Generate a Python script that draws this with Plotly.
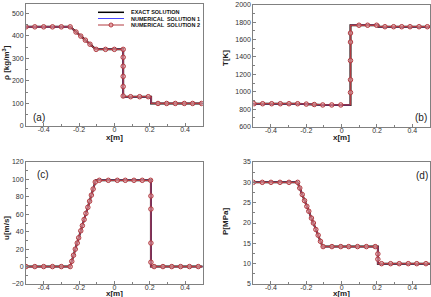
import plotly.graph_objects as go

W, H = 431, 297

# ---------------- data ----------------
# (a) density
rho_exact_x = [-0.5, -0.25, -0.105, 0.05, 0.05, 0.208, 0.208, 0.5]
rho_exact_y = [440, 440, 340, 340, 130, 130, 100, 100]
rho_sym_x = [-0.5, -0.45, -0.4, -0.35, -0.3, -0.25, -0.217, -0.19, -0.164, -0.138, -0.103,
             -0.05, 0.0, 0.05, 0.05, 0.05, 0.05, 0.05, 0.05, 0.092, 0.143, 0.192,
             0.247, 0.296, 0.345, 0.396, 0.443, 0.494]
rho_sym_y = [440, 440, 440, 440, 440, 440, 417, 399, 381, 363, 340,
             340, 340, 340, 305, 265, 220, 175, 133, 130, 130, 130,
             100, 100, 100, 100, 100, 100]

# (b) temperature
T_exact_x = [-0.5, -0.25, -0.105, 0.05, 0.05, 0.208, 0.208, 0.5]
T_exact_y = [862, 862, 848, 848, 1765, 1765, 1748, 1748]
T_sym_x = [-0.496, -0.447, -0.396, -0.347, -0.298, -0.249, -0.2, -0.155, -0.107, -0.056, -0.005,
           0.05, 0.05, 0.05, 0.05, 0.05, 0.098, 0.147, 0.198,
           0.245, 0.294, 0.34, 0.387, 0.438, 0.485]
T_sym_y = [862, 862, 862, 862, 862, 862, 858, 853, 848, 848, 848,
           991, 1137, 1359, 1571, 1675, 1765, 1765, 1765,
           1748, 1748, 1748, 1748, 1748, 1748]

# (c) velocity
u_exact_x = [-0.5, -0.25, -0.105, 0.207, 0.207, 0.5]
u_exact_y = [0, 0, 99, 99, 0, 0]
u_sym_x = [-0.5, -0.45, -0.4, -0.35, -0.3, -0.25,
           -0.241, -0.231, -0.221, -0.21, -0.202, -0.19, -0.181, -0.171, -0.161, -0.15, -0.14, -0.13, -0.12, -0.108,
           -0.085, -0.034, 0.017, 0.062, 0.111, 0.158, 0.205,
           0.207, 0.207, 0.207, 0.207,
           0.225, 0.275, 0.325, 0.375, 0.425, 0.475]
u_sym_y = [0, 0, 0, 0, 0, 0,
           6, 13, 20, 27, 33, 41, 47, 54, 61, 68, 75, 82, 89, 97,
           99, 99, 99, 99, 99, 99, 99,
           81, 66, 27, 5,
           0, 0, 0, 0, 0, 0]

# (d) pressure
P_exact_x = [-0.5, -0.25, -0.108, 0.205, 0.205, 0.5]
P_exact_y = [30, 30, 14.2, 14.2, 10, 10]
P_sym_x = [-0.5, -0.449, -0.4, -0.349, -0.298, -0.249,
           -0.237, -0.223, -0.21, -0.197, -0.186, -0.171, -0.16, -0.146, -0.133, -0.12,
           -0.105, -0.055, -0.005, 0.04, 0.09, 0.14, 0.19,
           0.205, 0.205,
           0.226, 0.277, 0.326, 0.377, 0.425, 0.477]
P_sym_y = [30, 30, 30, 30, 30, 30,
           28.6, 27, 25.5, 24.1, 22.9, 21.2, 20, 18.4, 17, 15.5,
           14.2, 14.2, 14.2, 14.2, 14.2, 14.2, 14.2,
           12.4, 11.1,
           10, 10, 10, 10, 10, 10]

x_ticks = [-0.4, -0.2, 0, 0.2, 0.4]
x_ticktext = ["-0.4", "-0.2", "0", "0.2", "0.4"]

legend_names = ["EXACT SOLUTION", "NUMERICAL  SOLUTION 1", "NUMERICAL  SOLUTION 2"]

# ---------------- styling ----------------
C_EXACT = "#000000"
C_NUM1 = "#4646ff"
C_NUM2 = "#b23a40"
FONT = "Liberation Sans, Arial, sans-serif"
AX_COL = "#808080"


def px(x):
    return x / W


def py(y):
    return 1 - y / H


panels = [
    dict(xa="x", ya="y", xd=(26, 202.7), yd=(4.3, 126), yr=[0, 540], dt=100,
         ex=(rho_exact_x, rho_exact_y), sy=(rho_sym_x, rho_sym_y)),
    dict(xa="x2", ya="y2", xd=(253.3, 430), yd=(4.8, 126.5), yr=[600, 2000], dt=200,
         ex=(T_exact_x, T_exact_y), sy=(T_sym_x, T_sym_y)),
    dict(xa="x3", ya="y3", xd=(26, 202.7), yd=(162, 284), yr=[-20, 120], dt=20,
         ex=(u_exact_x, u_exact_y), sy=(u_sym_x, u_sym_y)),
    dict(xa="x4", ya="y4", xd=(253.3, 430), yd=(162, 284), yr=[5, 35], dt=5,
         ex=(P_exact_x, P_exact_y), sy=(P_sym_x, P_sym_y)),
]

fig = go.Figure()
layout = dict(
    width=W, height=H, margin=dict(l=0, r=0, t=0, b=0),
    paper_bgcolor="white", plot_bgcolor="white", showlegend=False,
    font=dict(family=FONT, size=7, color="#333333"),
)

for i, p in enumerate(panels):
    ex_x, ex_y = p["ex"]
    sx, sy = p["sy"]
    fig.add_trace(go.Scatter(x=ex_x, y=ex_y, mode="lines", name=legend_names[0],
                             line=dict(color=C_EXACT, width=2), xaxis=p["xa"], yaxis=p["ya"]))
    fig.add_trace(go.Scatter(x=ex_x, y=ex_y, mode="lines", name=legend_names[1],
                             line=dict(color=C_NUM1, width=1), xaxis=p["xa"], yaxis=p["ya"]))
    fig.add_trace(go.Scatter(x=ex_x, y=ex_y, mode="lines", name=legend_names[2],
                             line=dict(color=C_NUM2, width=1.3), xaxis=p["xa"], yaxis=p["ya"]))
    fig.add_trace(go.Scatter(x=sx, y=sy, mode="markers", name=legend_names[2],
                             marker=dict(symbol="circle", size=4.5, color="rgba(235,160,165,0.55)",
                                         line=dict(color=C_NUM2, width=1)),
                             xaxis=p["xa"], yaxis=p["ya"]))
    n = "" if i == 0 else str(i + 1)
    common = dict(showline=True, linecolor=AX_COL, linewidth=1, mirror=True,
                  ticks="inside", ticklen=3, tickcolor=AX_COL, tickwidth=1,
                  showgrid=False, zeroline=False, automargin=False,
                  tickfont=dict(family=FONT, size=7, color="#333333"))
    layout["xaxis" + n] = dict(common, domain=[px(p["xd"][0]), px(p["xd"][1])],
                               range=[-0.5, 0.5], tickvals=x_ticks, ticktext=x_ticktext,
                               anchor="y" + n, ticklabelstandoff=-3,
                               minor=dict(ticks="inside", ticklen=2, tickcolor=AX_COL, dtick=0.1))
    layout["yaxis" + n] = dict(common, domain=[py(p["yd"][1]), py(p["yd"][0])],
                               range=p["yr"], dtick=p["dt"], tick0=0, anchor="x" + n,
                               minor=dict(ticks="inside", ticklen=2, tickcolor=AX_COL,
                                          dtick=p["dt"] / 2))

annotations = []
shapes = []


def ann(text, x, y, size=8, bold=True, angle=0, xanchor="center", color="#222222"):
    annotations.append(dict(
        text=text, x=px(x), y=py(y), xref="paper", yref="paper", showarrow=False,
        xanchor=xanchor, yanchor="middle", textangle=angle,
        font=dict(family=FONT, size=size, color=color, weight=700 if bold else 400)))


# axis titles
ann("x[m]", 114.3, 137.5)
ann("x[m]", 341.7, 137.5)
ann("x[m]", 114.3, 293.5)
ann("x[m]", 341.7, 293.5)
ann("ρ [kg/m<sup>3</sup>]", 6, 63, angle=-90)
ann("T[K]", 225, 58, angle=-90)
ann("u[m/s]", 7, 228, angle=-90)
ann("P[MPa]", 225, 222, angle=-90)

# panel labels
ann("(a)", 39, 117, size=10, bold=False)
ann("(b)", 421, 117, size=10, bold=False)
ann("(c)", 42.5, 174, size=10, bold=False)
ann("(d)", 421.5, 175, size=10, bold=False)

# manual legend (panel a)
leg_y = [12.3, 18.5, 25]
leg_cols = [C_EXACT, C_NUM1, C_NUM2]
leg_w = [1.5, 1, 1]
for name, yy, col, lw in zip(legend_names, leg_y, leg_cols, leg_w):
    shapes.append(dict(type="line", xref="paper", yref="paper",
                       x0=px(98), x1=px(124), y0=py(yy), y1=py(yy),
                       line=dict(color=col, width=lw)))
    ann(name, 128.5, yy, size=5.5, bold=True, xanchor="left", color="#111111")
shapes.append(dict(type="circle", xref="paper", yref="paper",
                   x0=px(109), x1=px(113), y0=py(27), y1=py(23),
                   line=dict(color=C_NUM2, width=1), fillcolor="rgba(235,160,165,0.55)"))

layout["annotations"] = annotations
layout["shapes"] = shapes
fig.update_layout(**layout)
fig.write_html("out.html")
